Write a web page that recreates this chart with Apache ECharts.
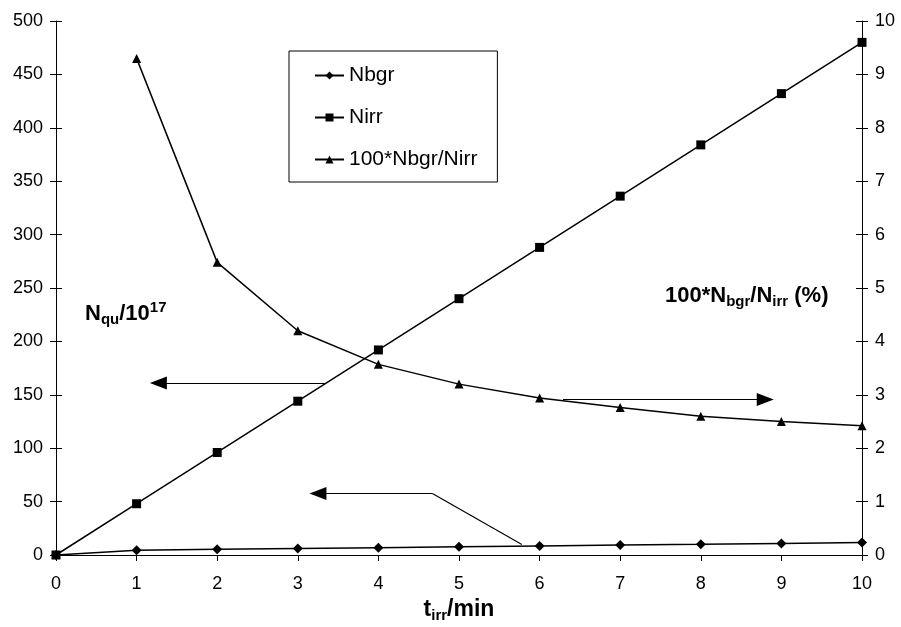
<!DOCTYPE html>
<html>
<head>
<meta charset="utf-8">
<script src="https://cdn.jsdelivr.net/npm/echarts@6/dist/echarts.min.js"></script>
<style>
  html, body { margin: 0; padding: 0; background: #fff; }
  #chart { width: 901px; height: 627px; }
</style>
</head>
<body>
<div id="chart"></div>
<script>
  // irradiation time (min)
  const tIrr = [0, 1, 2, 3, 4, 5, 6, 7, 8, 9, 10]
  // Nbgr, N/10^17
  const nbgr = [0, 4.5, 5.3, 6.1, 6.9, 7.7, 8.5, 9.3, 10.0, 10.8, 11.6]
  // Nirr, N/10^17
  const nirr = [0, 48, 96, 144, 192, 240, 288, 336, 384, 432, 480]
  // 100*Nbgr/Nirr (%), no value at t = 0
  const ratio = [null, 9.3, 5.48, 4.2, 3.57, 3.2, 2.94, 2.76, 2.6, 2.5, 2.42]

  // annotation arrows in data coordinates
  const arrowNirr = [[3.34, 161], [1.27, 161]]
  const arrowRatio = [[6.29, 2.91], [8.8, 2.91]]
  const arrowNbgr = [[5.78, 9.8], [4.67, 57.6], [3.25, 57.6]]

  const font = 'Liberation Sans, Arial, sans-serif'
  const pair = (ys) => tIrr.map((t, i) => [t, ys[i]]).filter(p => p[1] !== null)
  const arrowHead = [13, 17]

  const chart = echarts.init(document.getElementById('chart'))

  // extra axes just for the inner half of the crossing ticks
  const tickAxis = (pos, max, interval) => ({
    type: 'value',
    position: pos,
    min: 0,
    max: max,
    interval: interval,
    axisLine: { show: false },
    axisLabel: { show: false },
    splitLine: { show: false },
    axisTick: { show: true, inside: true, length: 6, lineStyle: { color: '#000' } }
  })

  chart.setOption({
    animation: false,
    textStyle: { fontFamily: font },
    grid: { left: 56, right: 39, top: 21, bottom: 72, containLabel: false, outerBoundsMode: 'none' },
    legend: {
      orient: 'vertical',
      left: 289,
      top: 51,
      padding: [14, 20, 12, 25],
      borderColor: '#000',
      borderWidth: 1,
      itemWidth: 29,
      itemHeight: 10,
      itemGap: 21,
      textStyle: { fontFamily: font, fontSize: 21, color: '#000' },
      data: ['Nbgr', 'Nirr', '100*Nbgr/Nirr']
    },
    xAxis: {
      type: 'value',
      min: 0,
      max: 10,
      interval: 1,
      name: '{b|t}{s|irr}{b|/min}',
      nameLocation: 'middle',
      nameGap: 41,
      nameTextStyle: {
        rich: {
          b: { fontFamily: font, fontSize: 23, fontWeight: 'bold', color: '#000' },
          s: { fontFamily: font, fontSize: 15, fontWeight: 'bold', color: '#000', padding: [12, 0, 0, 0] }
        }
      },
      axisLine: { lineStyle: { color: '#000', width: 1 } },
      axisTick: { length: 6, lineStyle: { color: '#000' } },
      axisLabel: { fontSize: 18, color: '#000', margin: 20 },
      splitLine: { show: false }
    },
    yAxis: [
      {
        type: 'value',
        position: 'left',
        min: 0,
        max: 500,
        interval: 50,
        axisLine: { show: true, lineStyle: { color: '#000', width: 1 } },
        axisTick: { show: true, length: 6, lineStyle: { color: '#000' } },
        axisLabel: { fontSize: 18, color: '#000', margin: 13 },
        splitLine: { show: false }
      },
      {
        type: 'value',
        position: 'right',
        min: 0,
        max: 10,
        interval: 1,
        axisLine: { show: true, lineStyle: { color: '#000', width: 1 } },
        axisTick: { show: true, length: 6, lineStyle: { color: '#000' } },
        axisLabel: { fontSize: 18, color: '#000', margin: 13 },
        splitLine: { show: false }
      },
      tickAxis('left', 500, 50),
      tickAxis('right', 10, 1)
    ],
    graphic: [
      {
        type: 'text',
        left: 85,
        top: 300,
        style: {
          text: '{b|N}{s|qu}{b|/10}{p|17}',
          rich: {
            b: { fontFamily: font, fontSize: 22, fontWeight: 'bold', fill: '#000' },
            s: { fontFamily: font, fontSize: 15, fontWeight: 'bold', fill: '#000', padding: [12, 0, 0, 0] },
            p: { fontFamily: font, fontSize: 15, fontWeight: 'bold', fill: '#000', padding: [0, 0, 12, 0] }
          }
        }
      },
      {
        type: 'text',
        left: 665,
        top: 285,
        style: {
          text: '{b|100*N}{s|bgr}{b|/N}{s|irr}{b| (%)}',
          rich: {
            b: { fontFamily: font, fontSize: 22, fontWeight: 'bold', fill: '#000' },
            s: { fontFamily: font, fontSize: 15, fontWeight: 'bold', fill: '#000', padding: [12, 0, 0, 0] }
          }
        }
      }
    ],
    series: [
      {
        name: 'Nbgr',
        type: 'line',
        yAxisIndex: 0,
        symbol: 'diamond',
        symbolSize: 10,
        itemStyle: { color: '#000' },
        lineStyle: { color: '#000', width: 1.5 },
        data: pair(nbgr),
        markLine: {
          silent: true,
          animation: false,
          label: { show: false },
          lineStyle: { color: '#000', width: 1.2, type: 'solid' },
          symbolSize: arrowHead,
          data: [
            [{ coord: arrowNbgr[0], symbol: 'none' }, { coord: arrowNbgr[1], symbol: 'none' }],
            [{ coord: arrowNbgr[1], symbol: 'none' }, { coord: arrowNbgr[2], symbol: 'triangle' }]
          ]
        }
      },
      {
        name: 'Nirr',
        type: 'line',
        yAxisIndex: 0,
        symbol: 'rect',
        symbolSize: 9,
        itemStyle: { color: '#000' },
        lineStyle: { color: '#000', width: 1.5 },
        data: pair(nirr),
        markLine: {
          silent: true,
          animation: false,
          label: { show: false },
          lineStyle: { color: '#000', width: 1.2, type: 'solid' },
          symbolSize: arrowHead,
          data: [
            [{ coord: arrowNirr[0], symbol: 'none' }, { coord: arrowNirr[1], symbol: 'triangle' }]
          ]
        }
      },
      {
        name: '100*Nbgr/Nirr',
        type: 'line',
        yAxisIndex: 1,
        symbol: 'triangle',
        symbolSize: 9,
        itemStyle: { color: '#000' },
        lineStyle: { color: '#000', width: 1.5 },
        data: pair(ratio),
        markLine: {
          silent: true,
          animation: false,
          label: { show: false },
          lineStyle: { color: '#000', width: 1.2, type: 'solid' },
          symbolSize: arrowHead,
          data: [
            [{ coord: arrowRatio[0], symbol: 'none' }, { coord: arrowRatio[1], symbol: 'triangle' }]
          ]
        }
      }
    ]
  })
</script>
</body>
</html>
